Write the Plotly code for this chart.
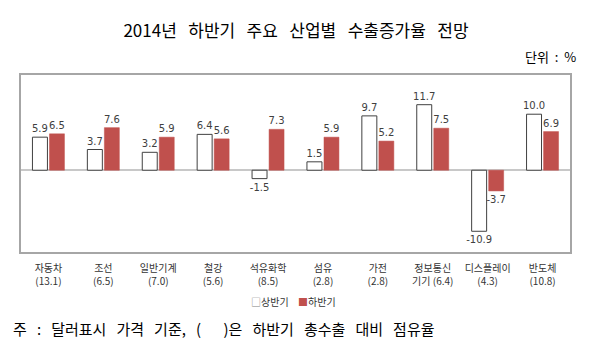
import plotly.graph_objects as go

categories = ["자동차<br>(13.1)", "조선<br>(6.5)", "일반기계<br>(7.0)", "철강<br>(5.6)", "석유화학<br>(8.5)",
              "섬유<br>(2.8)", "가전<br>(2.8)", "정보통신<br>기기 (6.4)", "디스플레이<br>(4.3)", "반도체<br>(10.8)"]
first_half = [5.9, 3.7, 3.2, 6.4, -1.5, 1.5, 9.7, 11.7, -10.9, 10.0]
second_half = [6.5, 7.6, 5.9, 5.6, 7.3, 5.9, 5.2, 7.5, -3.7, 6.9]
series_names = ["상반기", "하반기"]

RED = "#C0504D"
W, H = 596, 351
L, R, T, B = 21, 26, 75, 99
pw, ph = W - L - R, H - T - B
SP = "\u00a0\u00a0\u00a0"

def px_x(x):
    return (x - L) / pw

def px_y(y):
    return (H - B - y) / ph

fig = go.Figure()
fig.add_trace(go.Bar(x=categories, y=first_half, name=series_names[0],
                     marker=dict(color="white", line=dict(color="#404040", width=1)),
                     texttemplate="%{y:.1f}", textposition="outside", constraintext="none",
                     textfont=dict(family="DejaVu Sans", size=10, color="#404040"),
                     cliponaxis=False, showlegend=False))
fig.add_trace(go.Bar(x=categories, y=second_half, name=series_names[1],
                     marker=dict(color=RED, line=dict(color=RED, width=0.5)),
                     texttemplate="%{y:.1f}", textposition="outside", constraintext="none",
                     textfont=dict(family="DejaVu Sans", size=10, color="#404040"),
                     cliponaxis=False, showlegend=False))

title = SP.join(["2014년", "하반기", "주요", "산업별", "수출증가율", "전망"])
foot = SP.join(["주", ":", "달러표시", "가격", "기준,", "(\u2003\u2002)은", "하반기", "총수출", "대비", "점유율"])

fig.update_layout(
    width=W, height=H,
    margin=dict(l=L, r=R, t=T, b=B),
    paper_bgcolor="white", plot_bgcolor="white",
    barmode="group", bargap=0.38, bargroupgap=0.12,
    font=dict(family="Noto Sans CJK KR", color="#333333"),
    title=dict(text=title, x=296 / W, xanchor="center",
               y=1 - 31 / H, yanchor="middle",
               font=dict(family="Noto Sans CJK KR", size=17, color="black")),
    xaxis=dict(showline=True, mirror=True, linecolor="#A6A6A6", linewidth=1.5,
               ticks="", ticklabelstandoff=6,
               tickfont=dict(family="Noto Sans CJK KR", size=10, color="#333333"),
               showgrid=False),
    yaxis=dict(range=[-14.6, 17], showline=True, mirror=True, linecolor="#A6A6A6", linewidth=1.5,
               showticklabels=False, ticks="", showgrid=False,
               zeroline=True, zerolinecolor="#C8C8C8", zerolinewidth=1.5),
    annotations=[
        dict(text="단위\u00a0\u00a0:\u00a0\u00a0%", xref="paper", yref="paper", x=px_x(578), y=px_y(56),
             xanchor="right", yanchor="middle", showarrow=False,
             font=dict(family="Noto Sans CJK KR", size=13, color="black")),
        dict(text="<span style='color:#7F7F7F'>□</span>" + series_names[0],
             xref="paper", yref="paper", x=px_x(291), y=px_y(301),
             xanchor="right", yanchor="middle", showarrow=False,
             font=dict(family="Noto Sans CJK KR", size=10, color="#333333")),
        dict(text="<span style='color:" + RED + "'>■</span>" + series_names[1],
             xref="paper", yref="paper", x=px_x(296), y=px_y(301),
             xanchor="left", yanchor="middle", showarrow=False,
             font=dict(family="Noto Sans CJK KR", size=10, color="#333333")),
        dict(text=foot,
             xref="paper", yref="paper", x=px_x(11), y=px_y(328),
             xanchor="left", yanchor="middle", showarrow=False,
             font=dict(family="Noto Sans CJK KR", size=15, color="black")),
    ],
)

fig.write_html("out.html")
